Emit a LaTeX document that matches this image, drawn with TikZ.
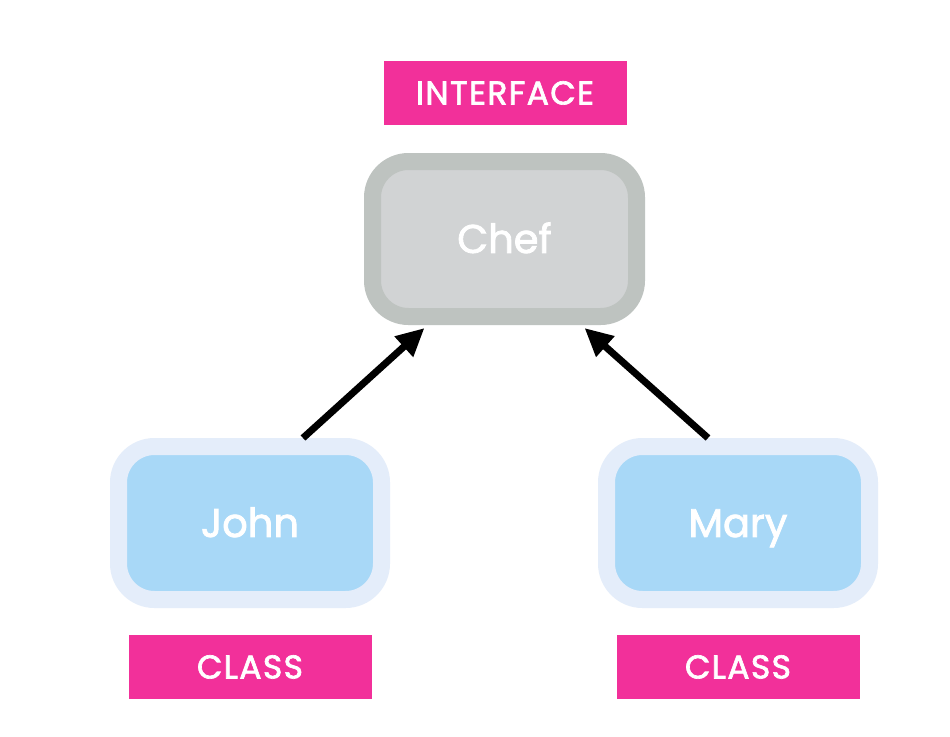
\documentclass[tikz,border=0pt]{standalone}
\usepackage{fontspec}
\setmainfont{Poppins}[FakeBold=2]
\usetikzlibrary{arrows.meta}

\definecolor{tagpink}{HTML}{F2309A}
\definecolor{ifaceedge}{HTML}{BEC3C0}
\definecolor{ifacefill}{HTML}{D1D3D4}
\definecolor{classedge}{HTML}{E4EDFA}
\definecolor{classfill}{HTML}{A8D8F7}

\def\boxwd{264pt}
\def\boxht{155pt}

\begin{document}
\begin{tikzpicture}[x=1pt,y=-1pt]
    \tikzstyle{tag}=[fill=tagpink,text=white,minimum width=243pt,minimum height=64pt,inner sep=0pt,text height=23pt,text depth=0pt,font=\fontsize{33}{38}\selectfont\addfontfeature{LetterSpace=4}]
    \tikzstyle{entity}=[rounded corners=36pt,line width=17pt,minimum width=\boxwd,minimum height=\boxht,text=white,text height=27.9pt,text depth=0pt,font=\fontsize{40}{48}\selectfont]
    \tikzstyle{iface}=[entity,draw=ifaceedge,fill=ifacefill]
    \tikzstyle{klass}=[entity,draw=classedge,fill=classfill,minimum width=263pt,minimum height=153pt]
    \tikzstyle{realizes}=[-{Triangle[length=28pt,width=26pt]},line width=7pt]

    \useasboundingbox[fill=white] (0,0) rectangle (950,736);

    %%%%%%%%%%%%%%%%%%%%%%%%%%%%%%%%%%%%%%%%%%%%
    %%% DRAW THE NODES
    %%%%%%%%%%%%%%%%%%%%%%%%%%%%%%%%%%%%%%%%%%%%
    \node[iface] (Chef) at (504.5,239) {Chef};
    \node[klass] (John) at (250,523) {John};
    \node[klass] (Mary) at (738,523) {Mary};

    \node[tag] (tag-Chef) at (505,93) {INTERFACE};
    \foreach \name in {John,Mary}
        \node[tag] (tag-\name) at ([yshift=-144pt]\name.center) {CLASS};

    %%%%%%%%%%%%%%%%%%%%%%%%%%%%%%%%%%%%%%%%%%%%
    %%% DRAW THE PATHS
    %%%%%%%%%%%%%%%%%%%%%%%%%%%%%%%%%%%%%%%%%%%%
    \draw[realizes] ([xshift=53pt]John.north) -- ([xshift=-80pt,yshift=-3pt]Chef.south);
    \draw[realizes] ([xshift=-30pt]Mary.north) -- ([xshift=80pt,yshift=-3pt]Chef.south);
\end{tikzpicture}
\end{document}
